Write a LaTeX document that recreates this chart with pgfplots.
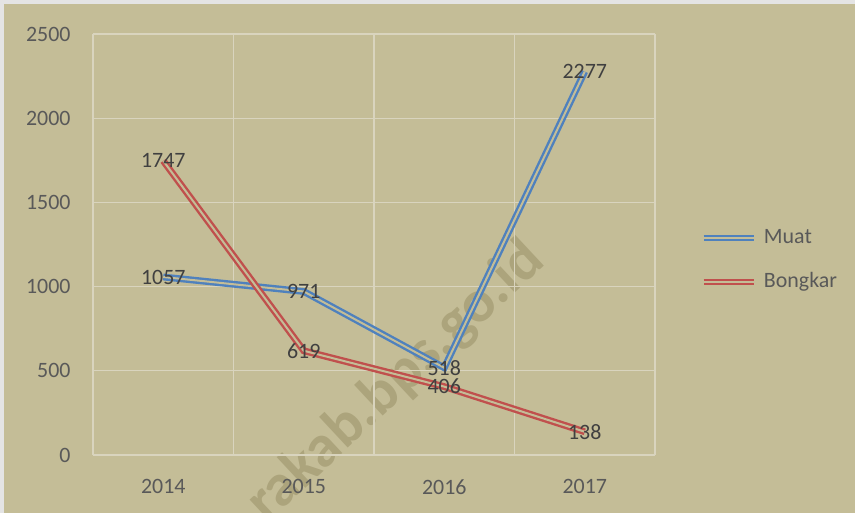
\documentclass[border=0pt]{standalone}
\usepackage{fontspec}
\setmainfont{Carlito}
\usepackage{pgfplots}
\pgfplotsset{compat=1.18}

\definecolor{bgc}{RGB}{196,189,151}
\definecolor{framec}{RGB}{228,228,228}
\definecolor{gridc}{RGB}{217,212,190}
\definecolor{tickc}{RGB}{89,89,89}
\definecolor{labelc}{RGB}{64,64,64}
\definecolor{wmc}{RGB}{172,164,124}
\definecolor{cblue}{RGB}{79,129,189}
\definecolor{cred}{RGB}{192,80,77}

\tikzset{
  muat/.style={draw=cblue, line width=2.4bp, double=bgc, double distance=2bp},
  bongkar/.style={draw=cred, line width=2.4bp, double=bgc, double distance=2bp},
}

\begin{document}
\begin{tikzpicture}
\path[use as bounding box] (-93bp,-58bp) rectangle (762bp,455bp);
\clip (-93bp,-58bp) rectangle (762bp,455bp);
\fill[framec] (-93bp,-58bp) rectangle (762bp,455bp);
\fill[bgc] (-89bp,-58bp) rectangle (762bp,451bp);
% watermark
\node[rotate=43, text=wmc, font=\fontsize{60}{66}\selectfont\bfseries] at (303bp,73bp) {rakab.bps.go.id};

\begin{axis}[
  at={(0,0)}, anchor=south west,
  scale only axis,
  width=562bp, height=421bp,
  xmin=-0.5, xmax=3.5,
  ymin=0, ymax=2500,
  xtick={0,1,2,3},
  xticklabels={2014,2015,2016,2017},
  minor xtick={-0.5,0.5,1.5,2.5,3.5},
  ytick={0,500,1000,1500,2000,2500},
  xminorgrids=true, xmajorgrids=false,
  ymajorgrids=true,
  grid style={draw=gridc, line width=1.2bp},
  minor grid style={draw=gridc, line width=1.2bp},
  axis line style={draw=none},
  major tick length=0pt, minor tick length=0pt,
  tick style={draw=none},
  /pgf/number format/assume math mode=true,
  /pgf/number format/1000 sep={},
  tick label style={font=\fontsize{22}{26}\selectfont, text=tickc},
  yticklabel style={xshift=-19bp},
  xticklabel style={yshift=-21bp},
  clip=false,
  nodes near coords,
  every node near coord/.append style={anchor=center, text=labelc,
    font=\fontsize{22}{26}\selectfont},
  legend image code/.code={\draw[#1] (0bp,0bp) -- (50bp,0bp);},
  legend style={at={(1.0747,0.463)}, anchor=west, draw=none, fill=none,
    font=\fontsize{22}{26}\selectfont, text=tickc,
    nodes={inner sep=0pt, text height=15bp, text depth=5bp},
    row sep=24bp, column sep=7bp},
  legend cell align=left,
]
\addplot[muat] coordinates {(0,1057) (1,971) (2,518) (3,2277)};
\addlegendentry{Muat}
\addplot[bongkar] coordinates {(0,1747) (1,619) (2,406) (3,138)};
\addlegendentry{Bongkar}
\end{axis}
\end{tikzpicture}
\end{document}
